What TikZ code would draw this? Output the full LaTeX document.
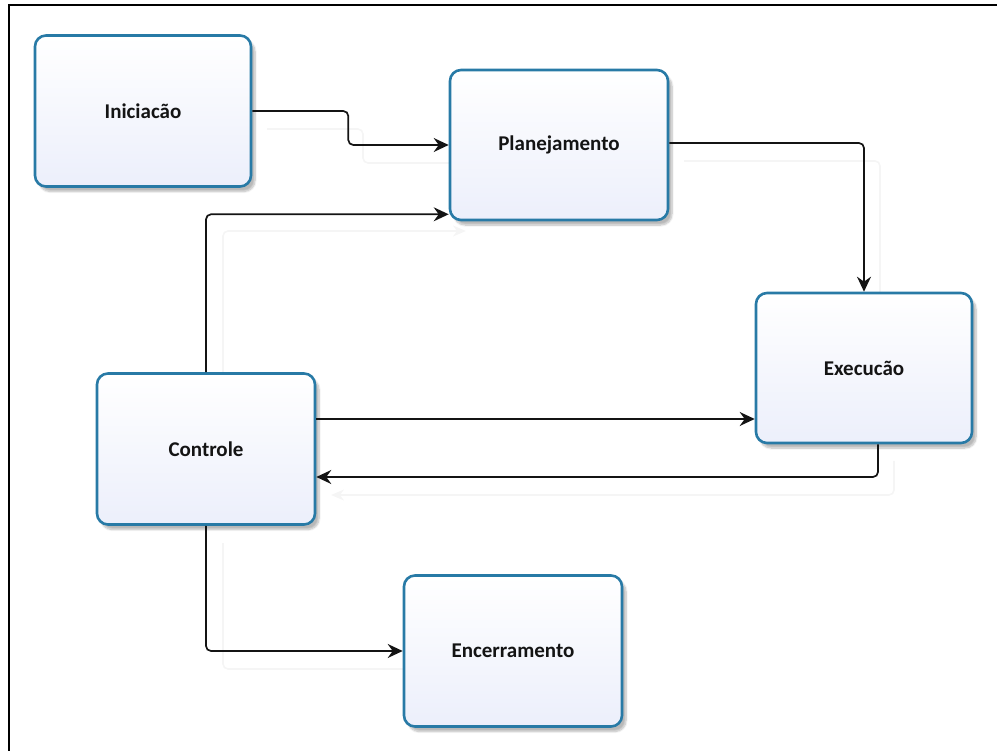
\documentclass[tikz,border=0pt]{standalone}
\usepackage{fontspec}
\setmainfont{Carlito}
\usetikzlibrary{arrows.meta,shadows.blur}

\definecolor{boxedge}{RGB}{40,122,166}
\definecolor{boxfill}{RGB}{236,239,251}
\definecolor{linecol}{RGB}{20,20,20}

\tikzset{
  phase/.style={
    draw=boxedge, line width=2.6pt, rounded corners=11pt,
    top color=white, bottom color=boxfill,
    minimum width=216pt, minimum height=151pt,
    font=\fontsize{21}{24}\selectfont\bfseries, text=black!92,
    blur shadow={shadow xshift=4pt, shadow yshift=-5pt,
                 shadow blur steps=8, shadow opacity=28}
  },
  conn/.style={
    draw=linecol, line width=1.7pt, rounded corners=5pt,
    -{Stealth[length=15pt,width=14pt,inset=5pt]}
  },
  ghost/.style={
    draw=black!4, line width=1.6pt, rounded corners=5pt,
    -{Stealth[length=13pt,width=11pt,inset=4pt]}, shift={(16,18)}
  },
  frameline/.style={draw=black, line width=2.4pt}
}

\begin{document}
\begin{tikzpicture}[x=1pt,y=-1pt]
  % page extent
  \useasboundingbox (0,0) rectangle (997,751);
  \draw[frameline] (9,751) -- (9,5) -- (997,5);

  % reference heights for the horizontal runs
  \coordinate (yfwd) at (0,419);
  \coordinate (yback) at (0,477);

  % faint reflections of the connectors
  \draw[ghost] (251,111) -- ++(96,0) |- (450,145);
  \draw[ghost] (207,373) |- (450,213);
  \draw[ghost] (668,143) -| (864,293);
  \draw[ghost] (878,443) |- (315,477);
  \draw[ghost] (207,525) |- (404,651);

  % phases
  \node[phase] (ini)  at (143,111) {Iniciacão};
  \node[phase, minimum width=218pt, minimum height=150pt] (plan) at (559,145) {Planejamento};
  \node[phase, minimum height=150pt] (exec) at (864,368) {Execucão};
  \node[phase, minimum width=218pt] (ctrl) at (206,449) {Controle};
  \node[phase, minimum width=218pt] (enc)  at (513,651) {Encerramento};

  % flow between the phases
  \draw[conn] (ini.east) -- ++(96,0) |- (plan.west);
  \draw[conn] (ctrl.north) |- ([yshift=7pt]plan.south west);
  \draw[conn] ([yshift=2pt]plan.east) -| (exec.north);
  \draw[conn] (ctrl.east |- yfwd) -- (exec.west |- yfwd);
  \draw[conn] ([xshift=14pt]exec.south) |- (ctrl.east |- yback);
  \draw[conn] (ctrl.south) |- (enc.west);
\end{tikzpicture}
\end{document}
